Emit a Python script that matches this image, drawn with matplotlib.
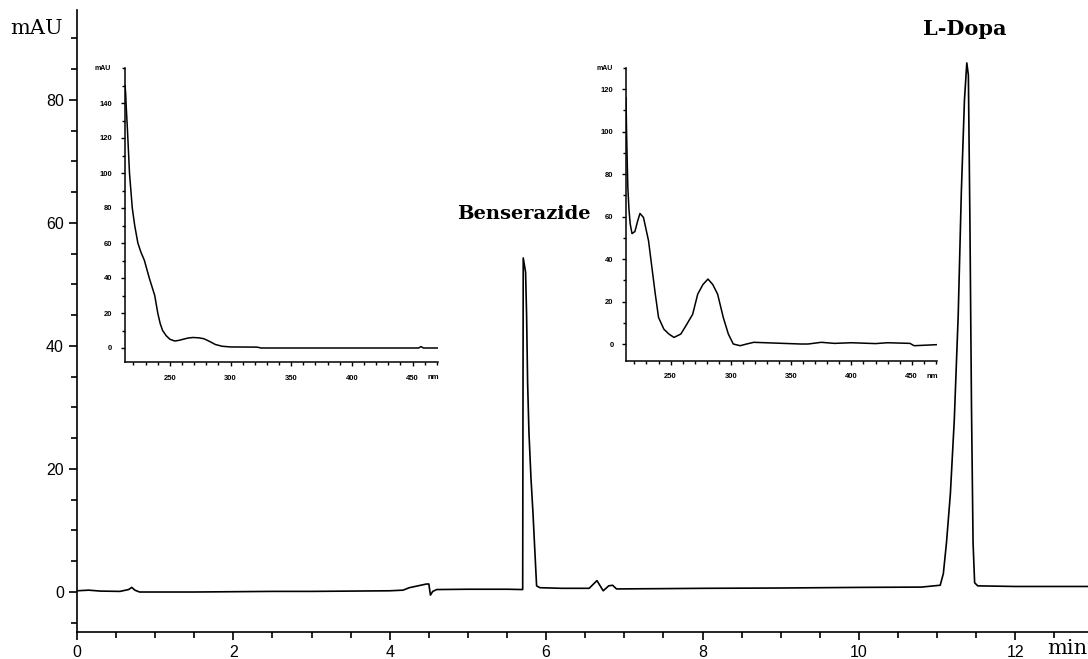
import matplotlib
matplotlib.use("Agg")
import matplotlib.pyplot as plt
from matplotlib.ticker import MultipleLocator, FixedLocator

# chromatogram (time in min, signal in mAU)
time_min = [0.0, 0.15, 0.3, 0.55, 0.66, 0.70, 0.74, 0.8, 1.0, 1.5, 2.0, 2.5, 3.0, 3.5,
            4.0, 4.17, 4.25, 4.47, 4.5, 4.52, 4.55, 4.6, 5.0, 5.5, 5.70, 5.707,
            5.737, 5.75, 5.763, 5.78, 5.806, 5.831, 5.857, 5.878, 5.92, 6.2, 6.55,
            6.65, 6.73, 6.8, 6.85, 6.9, 7.5, 8.0, 9.0, 10.0, 10.8, 11.04, 11.08,
            11.12, 11.17, 11.22, 11.27, 11.31, 11.35, 11.38, 11.40, 11.42, 11.44,
            11.46, 11.48, 11.52, 12.0, 12.5, 12.93]
signal_mau = [0.2, 0.3, 0.15, 0.1, 0.4, 0.75, 0.3, 0.0, 0.0, 0.0, 0.05, 0.1, 0.1, 0.15,
              0.2, 0.3, 0.7, 1.3, 1.3, -0.5, 0.1, 0.4, 0.45, 0.45, 0.4, 54.3,
              52.0, 45.0, 34.0, 26.0, 18.5, 13.0, 6.3, 1.0, 0.7, 0.6, 0.6,
              1.85, 0.2, 1.0, 1.1, 0.5, 0.55, 0.6, 0.65, 0.75, 0.8, 1.1, 3.0,
              8.0, 16.0, 28.0, 45.0, 65.0, 80.0, 86.0, 84.0, 60.0, 30.0,
              8.0, 1.5, 1.0, 0.9, 0.9, 0.9]

# UV spectrum of the first peak (Benserazide)
spec1_nm = [213, 213.5, 214, 215, 216.7, 219, 221, 223.6, 226, 229, 233, 237.5, 240,
            242, 244, 247, 250, 254, 257, 261, 265, 269, 274, 278, 282, 287.5, 293,
            300, 322, 325, 400, 455, 457, 459, 471]
spec1_mau = [150, 146, 138, 125, 100, 80, 70, 60, 55, 50, 40, 30, 20,
             14, 10, 7, 5, 4, 4.3, 5, 5.7, 6, 5.8, 5.3, 4, 2, 1,
             0.6, 0.5, 0, 0, 0, 0.8, 0, 0]
spec1_ticks = [0, 20, 40, 60, 80, 100, 120, 140]

# UV spectrum of the second peak (L-Dopa)
spec2_nm = [213, 213.5, 214.5, 215.5, 216.5, 218, 220.4, 222.7, 224.6, 227.5, 231.7,
            234.5, 237.3, 240, 244.4, 248.6, 252.8, 258.5, 262.7, 268.3, 272.5,
            276.8, 281, 285, 289, 293.7, 297.9, 302, 307.7, 313, 319, 358, 364,
            375, 386, 400, 420, 430, 448.6, 452, 471]
spec2_mau = [116, 99, 74, 63, 56.5, 52, 53, 58, 61.5, 59.6, 48.6,
             36, 23.5, 12.5, 7, 4.7, 3.1, 4.7, 8.6, 14, 23.5,
             28, 30.6, 28, 23.5, 12.5, 4.7, 0, -0.8, 0, 0.8, 0, 0, 0.8,
             0.3, 0.6, 0.2, 0.6, 0.3, -0.8, -0.3]
spec2_ticks = [0, 20, 40, 60, 80, 100, 120]

fig = plt.figure(figsize=(10.88, 6.59), dpi=100)

# main chromatogram
ax = fig.add_axes([77 / 1088, 27 / 659, 1011 / 1088, 622 / 659])
ax.plot(time_min, signal_mau, color="black", lw=1.2)
ax.set_xlim(0, 12.93)
ax.set_ylim(-6.5, 94.6)
for s in ["top", "right"]:
    ax.spines[s].set_visible(False)
ax.spines["left"].set_linewidth(1.2)
ax.spines["bottom"].set_linewidth(1.2)
ax.xaxis.set_major_locator(MultipleLocator(2))
ax.xaxis.set_minor_locator(MultipleLocator(0.5))
ax.yaxis.set_major_locator(MultipleLocator(20))
ax.yaxis.set_minor_locator(MultipleLocator(5))
ax.tick_params(which="major", length=6, width=1.2, labelsize=11.5)
ax.tick_params(which="minor", length=4, width=1.2)
for lab in ax.get_xticklabels() + ax.get_yticklabels():
    lab.set_fontfamily("Liberation Sans")

fig.text(10 / 1088, 1 - 28 / 659, "mAU", family="DejaVu Serif", fontsize=15,
         va="center", ha="left")
fig.text(1047 / 1088, 1 - 648 / 659, "min", family="DejaVu Serif", fontsize=15,
         va="center", ha="left")
ax.text(5.72, 61.5, "Benserazide", family="DejaVu Serif", weight="bold",
        fontsize=14, ha="center", va="center")
ax.text(11.35, 91.5, "L-Dopa", family="DejaVu Serif", weight="bold",
        fontsize=15, ha="center", va="center")


def spectrum_inset(rect, nm, mau, ymax, yticks):
    ins = fig.add_axes(rect)
    ins.plot(nm, mau, color="black", lw=1.1)
    ins.set_xlim(213, 471)
    ins.set_ylim(-8, ymax)
    for s in ["top", "right"]:
        ins.spines[s].set_visible(False)
    ins.spines["left"].set_linewidth(1.1)
    ins.spines["bottom"].set_linewidth(1.1)
    ins.xaxis.set_major_locator(MultipleLocator(50))
    ins.xaxis.set_minor_locator(MultipleLocator(10))
    ins.yaxis.set_major_locator(FixedLocator(yticks))
    ins.yaxis.set_minor_locator(MultipleLocator(10))
    ins.tick_params(which="major", length=3, width=1, labelsize=5.5, pad=6)
    ins.tick_params(which="minor", length=2, width=1)
    for lab in ins.get_xticklabels() + ins.get_yticklabels():
        lab.set_fontfamily("Liberation Sans")
        lab.set_fontweight("bold")
    ins.text(-0.07, 1.0, "mAU", transform=ins.transAxes, fontsize=5,
             weight="bold", family="Liberation Sans", ha="center", va="center")
    ins.text(0.985, -0.04, "nm", transform=ins.transAxes, fontsize=5.5,
             weight="bold", family="Liberation Sans", ha="center", va="top")
    return ins


spectrum_inset([125 / 1088, 297 / 659, 313 / 1088, 294 / 659],
               spec1_nm, spec1_mau, 160, spec1_ticks)
spectrum_inset([626 / 1088, 298 / 659, 311 / 1088, 293 / 659],
               spec2_nm, spec2_mau, 130, spec2_ticks)

fig.savefig("out.png", dpi=100)
